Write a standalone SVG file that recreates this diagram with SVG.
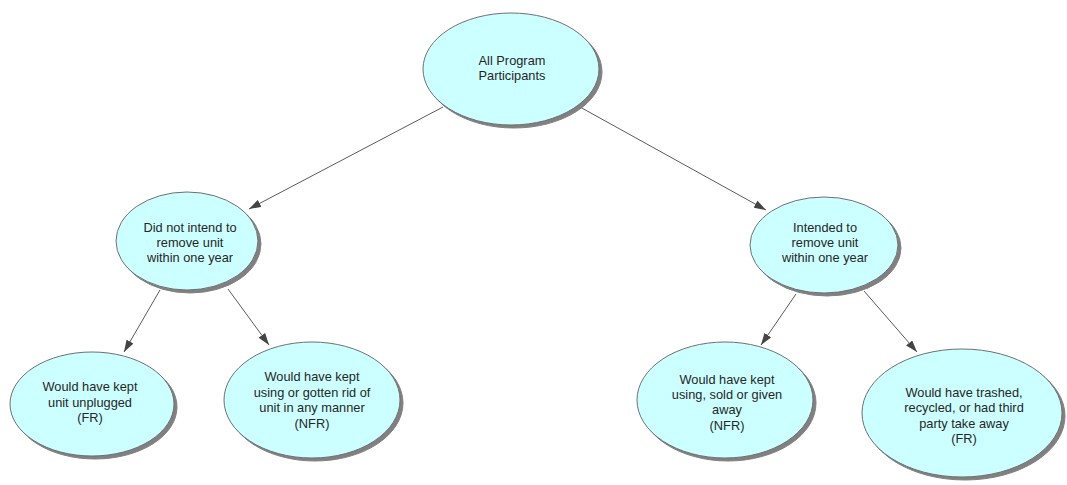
<svg xmlns="http://www.w3.org/2000/svg" width="1067" height="485" viewBox="0 0 1067 485">
<style>
.node ellipse{fill:#ccffff;stroke:#6f6f6f;stroke-width:1;filter:url(#sh)}
.node text{font-family:"Liberation Sans",Arial,sans-serif;font-size:12.8px;fill:#262626;text-anchor:middle}
.conn line{stroke:#5a5a5a;stroke-width:1;marker-end:url(#ah)}
</style>
<defs>
<filter id="sh" x="-10%" y="-10%" width="125%" height="130%">
<feGaussianBlur in="SourceAlpha" stdDeviation="0.7"/>
<feOffset dx="3" dy="3" result="o"/>
<feFlood flood-color="#808080" flood-opacity="1"/>
<feComposite in2="o" operator="in"/>
<feMerge><feMergeNode/><feMergeNode in="SourceGraphic"/></feMerge>
</filter>
<marker id="ah" viewBox="0 0 12 8" refX="12" refY="4" markerWidth="12" markerHeight="8" markerUnits="userSpaceOnUse" orient="auto">
<path d="M0,0 L12,4 L0,8 Z" fill="#444"/>
</marker>
</defs>
<g id="connectors" class="conn">
<line x1="443" y1="107" x2="249" y2="209"/>
<line x1="580" y1="107" x2="766" y2="210"/>
<line x1="160" y1="290" x2="124" y2="352"/>
<line x1="228" y1="289" x2="269" y2="345"/>
<line x1="796" y1="294" x2="761" y2="345"/>
<line x1="864" y1="291" x2="917" y2="352"/>
</g>
<g id="n-all" class="node">
<ellipse cx="511" cy="69" rx="88" ry="56"/>
<text x="512" y="65">All Program</text>
<text x="512" y="80">Participants</text>
</g>
<g id="n-notintend" class="node">
<ellipse cx="187" cy="241" rx="71" ry="49"/>
<text x="190" y="232">Did not intend to</text>
<text x="190" y="247">remove unit</text>
<text x="190" y="262">within one year</text>
</g>
<g id="n-intend" class="node">
<ellipse cx="824" cy="245" rx="74" ry="48"/>
<text x="825" y="232">Intended to</text>
<text x="825" y="247">remove unit</text>
<text x="825" y="262">within one year</text>
</g>
<g id="n-unplugged" class="node">
<ellipse cx="92" cy="404" rx="82" ry="52"/>
<text x="90" y="391">Would have kept</text>
<text x="90" y="407">unit unplugged</text>
<text x="90" y="422">(FR)</text>
</g>
<g id="n-keptusing" class="node">
<ellipse cx="312" cy="400" rx="88" ry="58"/>
<text x="312" y="381">Would have kept</text>
<text x="312" y="397">using or gotten rid of</text>
<text x="312" y="412">unit in any manner</text>
<text x="312" y="428">(NFR)</text>
</g>
<g id="n-sold" class="node">
<ellipse cx="725" cy="400" rx="88" ry="58"/>
<text x="727" y="384">Would have kept</text>
<text x="727" y="399">using, sold or given</text>
<text x="727" y="414">away</text>
<text x="727" y="430">(NFR)</text>
</g>
<g id="n-trashed" class="node">
<ellipse cx="962" cy="413" rx="100" ry="64"/>
<text x="964" y="397">Would have trashed,</text>
<text x="964" y="412">recycled, or had third</text>
<text x="964" y="428">party take away</text>
<text x="964" y="443">(FR)</text>
</g>
</svg>
